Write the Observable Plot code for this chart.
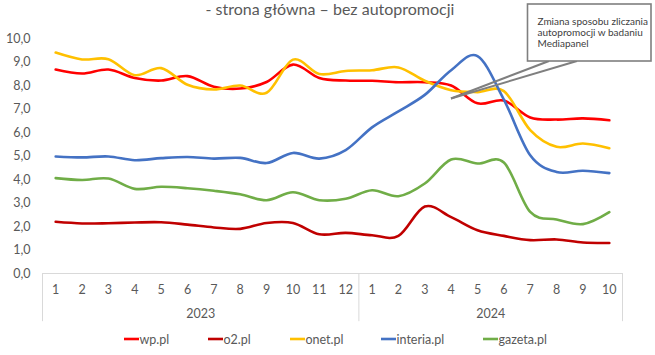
<!DOCTYPE html>
<html>
<head>
<meta charset="utf-8">
<script src="https://cdn.jsdelivr.net/npm/d3@7"></script>
<script src="https://cdn.jsdelivr.net/npm/@observablehq/plot@0.6"></script>
<style>
  html, body { margin: 0; padding: 0; background: #fff; }
  #chart { width: 655px; height: 355px; overflow: hidden; }
  svg { font-family: Lato, "Open Sans", sans-serif; }
</style>
</head>
<body>
<div id="chart"></div>
<script>
// ---- data ----
const title = "- strona główna – bez autopromocji";
const note = ["Zmiana sposobu zliczania", "autopromocji w badaniu", "Mediapanel"];
const years = ["2023", "2024"];
const monthsPerYear = [12, 10];
const months = ["1","2","3","4","5","6","7","8","9","10","11","12","1","2","3","4","5","6","7","8","9","10"];
const yTicks = [0, 1, 2, 3, 4, 5, 6, 7, 8, 9, 10];
const seriesNames = ["wp.pl", "o2.pl", "onet.pl", "interia.pl", "gazeta.pl"];
const seriesColors = ["#FF0000", "#C00000", "#FFC000", "#4472C4", "#70AD47"];

const wp      = [8.68, 8.51, 8.68, 8.32, 8.21, 8.40, 7.95, 7.87, 8.15, 8.89, 8.32, 8.21, 8.20, 8.14, 8.14, 8.00, 7.24, 7.36, 6.64, 6.55, 6.60, 6.52];
const o2      = [2.20, 2.13, 2.14, 2.17, 2.18, 2.08, 1.96, 1.90, 2.15, 2.15, 1.67, 1.73, 1.63, 1.60, 2.85, 2.40, 1.84, 1.60, 1.42, 1.45, 1.32, 1.30];
const onet    = [9.40, 9.11, 9.12, 8.44, 8.74, 8.03, 7.83, 8.00, 7.69, 9.10, 8.49, 8.62, 8.65, 8.77, 8.20, 7.80, 7.72, 7.76, 6.10, 5.39, 5.53, 5.33];
const interia = [4.98, 4.94, 4.98, 4.82, 4.91, 4.96, 4.89, 4.92, 4.70, 5.13, 4.89, 5.25, 6.22, 6.90, 7.60, 8.65, 9.25, 7.40, 5.03, 4.32, 4.37, 4.27];
const gazeta  = [4.06, 3.98, 4.04, 3.60, 3.69, 3.63, 3.52, 3.37, 3.12, 3.46, 3.12, 3.18, 3.54, 3.29, 3.83, 4.85, 4.68, 4.72, 2.62, 2.30, 2.10, 2.61];

// ---- build table ----
const seriesValues = [wp, o2, onet, interia, gazeta];
const rows = seriesNames.flatMap((name, s) => seriesValues[s].map((v, i) => ({i, v, name})));
const monthRows = months.map((m, i) => ({i, m}));
let start = 0;
const yearRows = years.map((y, k) => {
  const r = {year: y, center: start + (monthsPerYear[k] - 1) / 2, left: start - 0.5};
  start += monthsPerYear[k];
  return r;
});
const boundaries = [...yearRows.map(d => d.left), months.length - 0.5];
const fmt = d => d.toFixed(1).replace(".", ",");
const gray = "#595959";
const lineGray = "#D9D9D9";

const chart = Plot.plot({
  width: 655,
  height: 355,
  marginLeft: 42,
  marginRight: 33,
  marginTop: 38,
  marginBottom: 82,
  style: {fontFamily: "Lato, 'Open Sans', sans-serif", background: "#fff", overflow: "visible"},
  x: {domain: [-0.5, months.length - 0.5], axis: null},
  y: {domain: [0, 10], axis: null},
  color: {domain: seriesNames, range: seriesColors},
  marks: [
    Plot.ruleY([0], {x1: -0.5, x2: months.length - 0.5, stroke: lineGray, strokeWidth: 1}),
    Plot.ruleX(boundaries, {y1: 0, y2: -2.05, stroke: lineGray, strokeWidth: 1}),
    Plot.text(yTicks, {x: () => -0.5, y: d => d, text: fmt, dx: -12, textAnchor: "end", fill: gray, fontSize: 12.5}),
    Plot.text(monthRows, {x: "i", y: () => 0, text: "m", dy: 16, fill: gray, fontSize: 12.5}),
    Plot.text(yearRows, {x: "center", y: () => 0, text: "year", dy: 40, fill: gray, fontSize: 12.5}),
    Plot.line(rows, {x: "i", y: "v", z: "name", stroke: "name", curve: "cardinal", strokeWidth: 2.6, strokeLinejoin: "round", strokeLinecap: "round"})
  ]
});
document.getElementById("chart").appendChild(chart);

// ---- title, annotation, legend ----
const svg = d3.select(chart);
svg.append("text").attr("x", 330).attr("y", 14.5).attr("text-anchor", "middle")
  .attr("fill", gray).attr("font-size", 16).text(title);

const ann = svg.append("g");
ann.append("line").attr("x1", 549).attr("y1", 61).attr("x2", 451).attr("y2", 98.5)
  .attr("stroke", "#7F7F7F").attr("stroke-width", 2);
ann.append("line").attr("x1", 577).attr("y1", 61).attr("x2", 451).attr("y2", 98.5)
  .attr("stroke", "#7F7F7F").attr("stroke-width", 2);
ann.append("rect").attr("x", 527.5).attr("y", 4).attr("width", 123.5).attr("height", 57)
  .attr("fill", "#fff").attr("stroke", "#7F7F7F").attr("stroke-width", 1.6);
note.forEach((t, k) => {
  ann.append("text").attr("x", 537.5).attr("y", 25 + k * 11).attr("fill", "#404040")
    .attr("text-anchor", "start").attr("font-size", 10).text(t);
});

const legendX = [124, 208, 290, 381, 483];
const legend = svg.append("g");
seriesNames.forEach((name, s) => {
  legend.append("line").attr("x1", legendX[s]).attr("x2", legendX[s] + 15)
    .attr("y1", 339).attr("y2", 339).attr("stroke", seriesColors[s]).attr("stroke-width", 2.6);
  legend.append("text").attr("x", legendX[s] + 15.5).attr("y", 343.5).attr("fill", gray)
    .attr("text-anchor", "start").attr("font-size", 12.5).text(name);
});
</script>
</body>
</html>
